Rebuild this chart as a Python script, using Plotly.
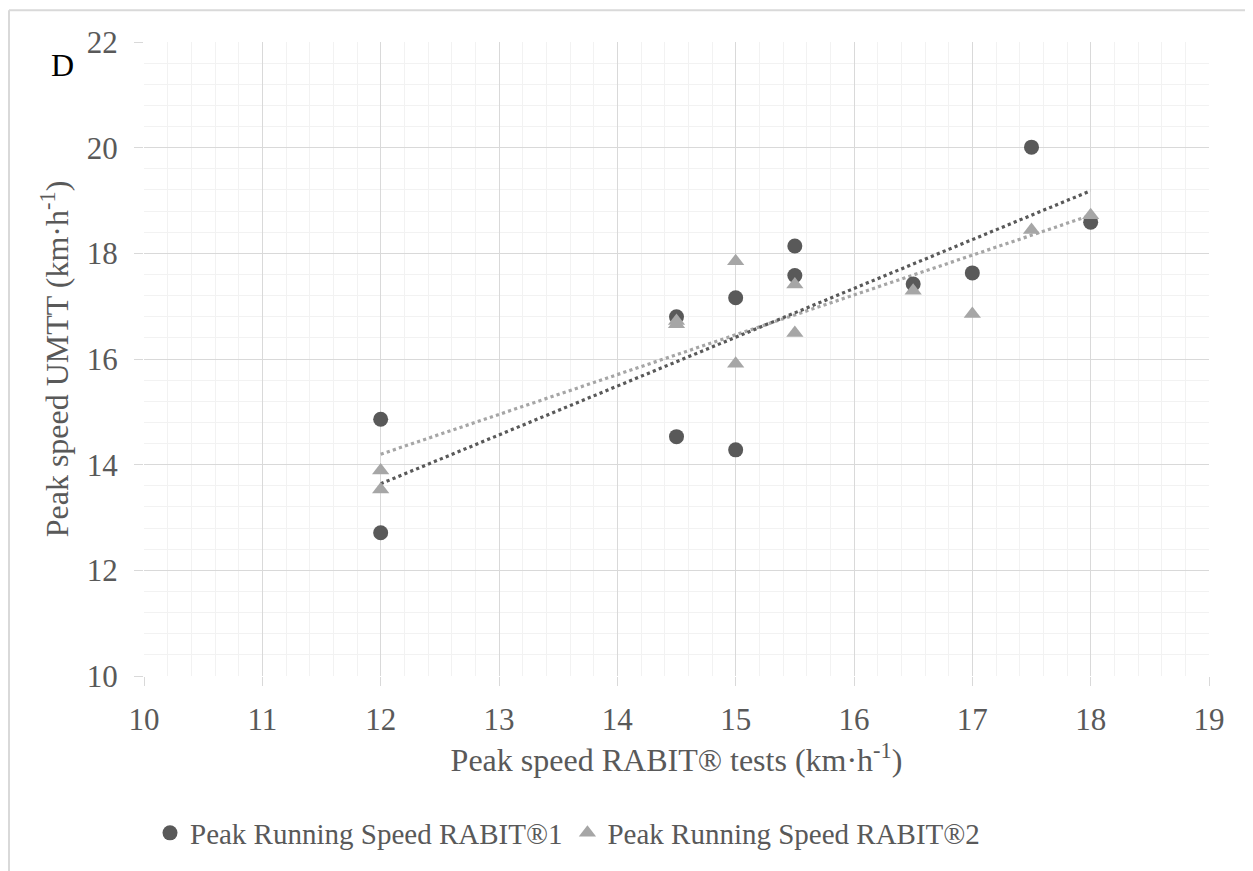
import numpy as np
import plotly.graph_objects as go

# Data
x_rabit1 = [12, 12, 14.5, 14.5, 15, 15, 15.5, 15.5, 16.5, 17, 17.5, 18]
y_rabit1 = [14.86, 12.71, 16.80, 14.53, 17.16, 14.28, 18.14, 17.58, 17.42, 17.63, 20.01, 18.59]
x_rabit2 = [12, 12, 14.5, 14.5, 15, 15, 15.5, 15.5, 16.5, 17, 17.5, 18]
y_rabit2 = [13.89, 13.53, 16.66, 16.72, 17.85, 15.91, 17.41, 16.49, 17.29, 16.85, 18.44, 18.72]
name1 = "Peak Running Speed RABIT®1"
name2 = "Peak Running Speed RABIT®2"

DARK = "#595959"
LIGHT = "#A6A6A6"
FONT = "Liberation Serif, Times New Roman, serif"
FS_TICK = 31
FS_TITLE = 32
FS_LEG = 29

# page offset (browser body margin) is 8px
OFF = 8
PL, PR, PT, PB = 144, 1209, 42, 680  # plot area in screen px
PW, PH = PR - PL, PB - PT


def px_x(px):
    return (px - PL) / PW


def px_y(py):
    return (PB - py) / PH


fig = go.Figure()


def trend(xs, ys):
    k, b = np.polyfit(xs, ys, 1)
    xt = np.array([min(xs), max(xs)])
    return xt, k * xt + b


for xs, ys, color in [(x_rabit2, y_rabit2, LIGHT), (x_rabit1, y_rabit1, DARK)]:
    xt, yt = trend(xs, ys)
    fig.add_trace(go.Scatter(x=xt, y=yt, mode="lines", showlegend=False,
                             line=dict(color=color, width=3.2, dash="dot"),
                             hoverinfo="skip"))

fig.add_trace(go.Scatter(x=x_rabit1, y=y_rabit1, mode="markers", name=name1,
                         marker=dict(symbol="circle", size=15, color=DARK)))
fig.add_trace(go.Scatter(x=x_rabit2, y=y_rabit2, mode="markers", name=name2,
                         marker=dict(symbol="triangle-up", size=15, color=LIGHT)))

axis_common = dict(
    showgrid=True, gridcolor="#D9D9D9", gridwidth=1.3,
    zeroline=False, showline=False,
    ticks="outside", ticklen=9, tickcolor="#D9D9D9", tickwidth=1.3,
    tickfont=dict(family=FONT, size=FS_TICK, color=DARK),
)

fig.update_xaxes(range=[10, 19], dtick=1, tick0=10, ticklabelstandoff=7,
                 minor=dict(dtick=0.2, showgrid=True, gridcolor="#F2F2F2", gridwidth=1.3),
                 title=dict(text="Peak speed RABIT® tests (km·h<sup>-1</sup>)",
                            font=dict(family=FONT, size=FS_TITLE, color=DARK), standoff=12),
                 **axis_common)
fig.update_yaxes(range=[10, 22], dtick=2, tick0=10, ticklabelstandoff=10,
                 minor=dict(dtick=0.4, showgrid=True, gridcolor="#F2F2F2", gridwidth=1.3),
                 title=dict(text="Peak speed UMTT (km·h<sup>-1</sup>)",
                            font=dict(family=FONT, size=FS_TITLE, color=DARK), standoff=8),
                 **axis_common)

fig.update_layout(
    width=1253 - OFF, height=871 - OFF,
    margin=dict(l=PL - OFF, r=1253 - PR, t=PT - OFF, b=871 - PB),
    paper_bgcolor="white", plot_bgcolor="white",
    font=dict(family=FONT, size=FS_TICK, color=DARK),
    legend=dict(orientation="h", x=px_x(150), xanchor="left", y=px_y(838), yanchor="middle",
                font=dict(family=FONT, size=FS_LEG, color=DARK),
                itemwidth=30, tracegroupgap=0, traceorder="normal"),
    showlegend=True,
)

fig.add_annotation(text="D", xref="paper", yref="paper", x=px_x(62), y=px_y(65),
                   xanchor="center", yanchor="middle", showarrow=False,
                   font=dict(family=FONT, size=32, color="black"))

# outer chart border (left and top visible)
fig.add_shape(type="line", xref="paper", yref="paper",
              x0=px_x(9), x1=px_x(9),
              y0=px_y(10), y1=px_y(880),
              line=dict(color="#D9D9D9", width=2))
fig.add_shape(type="line", xref="paper", yref="paper",
              x0=px_x(9), x1=px_x(1260),
              y0=px_y(10), y1=px_y(10),
              line=dict(color="#D9D9D9", width=2))

fig.write_html("out.html")
